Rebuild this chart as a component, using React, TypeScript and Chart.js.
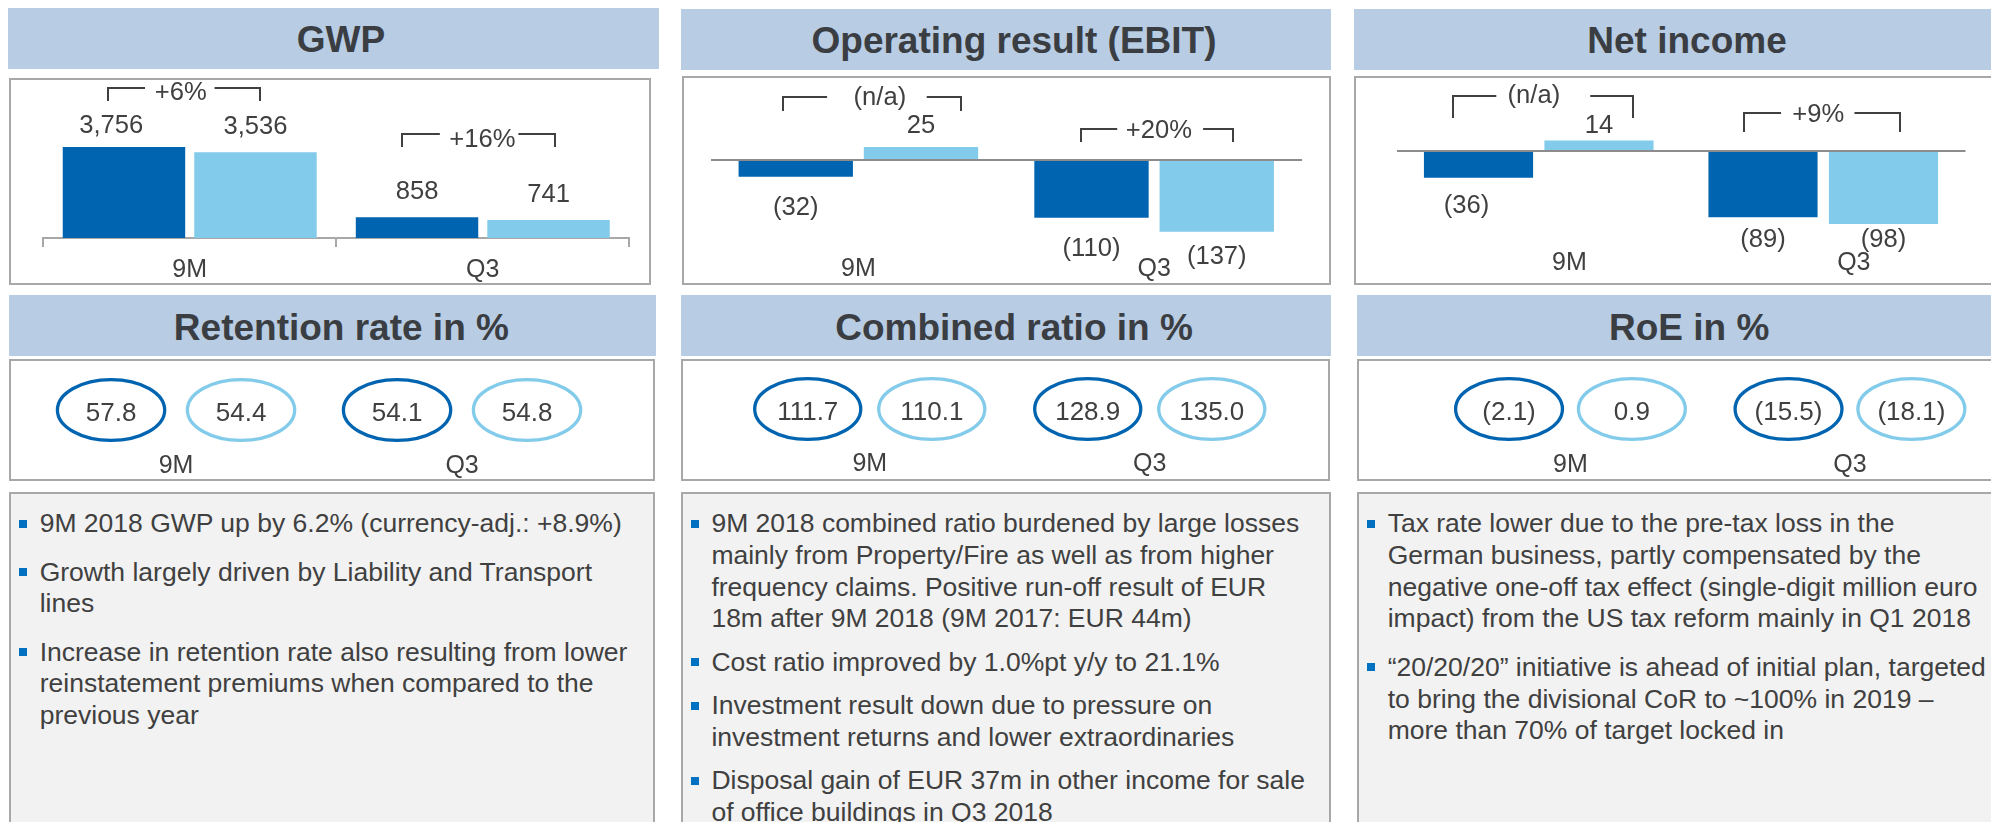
import React, { useEffect, useRef } from "react";
import { Chart, registerables } from "chart.js";

Chart.register(...registerables);

// ---------------- data ----------------
const periods = ["9M", "Q3"];
const gwp2018 = [3756, 858];
const gwp2017 = [3536, 741];
const gwpChange = ["+6%", "+16%"];
const ebit2018 = [-32, -110];
const ebit2017 = [25, -137];
const ebitChange = ["(n/a)", "+20%"];
const netIncome2018 = [-36, -89];
const netIncome2017 = [14, -98];
const netIncomeChange = ["(n/a)", "+9%"];
const retention2018 = [57.8, 54.1];
const retention2017 = [54.4, 54.8];
const combined2018 = [111.7, 128.9];
const combined2017 = [110.1, 135.0];
const roe2018 = [-2.1, -15.5];
const roe2017 = [0.9, -18.1];

// ---------------- styles ----------------
const FONT = '"Liberation Sans", Arial, sans-serif';
const DARK = "#0064b0";
const LIGHT = "#82cbea";
const TEXT = "#404040";
const TITLE = "#3a3e43";
const BAND = "#b8cce4";
const BORDER = "#a8a8a8";
const LINE = "#404040";
const LABEL_SIZE = 25.6;

Chart.defaults.font.family = FONT;

type Rect = { left: number; top: number; right: number; bottom: number };
type Bracket = { dxL: number; dxR: number; top: number; bottom: number; textDy: number; dxText: number; gapL: number; gapR: number };

const fmtBar = (v: number) => (v < 0 ? `(${Math.abs(v).toLocaleString("en-US")})` : v.toLocaleString("en-US"));
const fmtPct = (v: number) => (v < 0 ? `(${Math.abs(v).toFixed(1)})` : v.toFixed(1));

interface BarPanelProps {
  canvas: Rect;
  area: Rect;
  zeroY: number;
  pxPerUnit: number;
  current: number[];
  previous: number[];
  changes: string[];
  catPct: number;
  barPct: number;
  baselineAxis: boolean;
  tickPadding: number;
  labelOffset: number;
  labelGaps: number[][];
  labelDx: number[][];
  brackets: Bracket[];
}

function BarPanel(p: BarPanelProps) {
  const ref = useRef<HTMLCanvasElement>(null);
  const w = p.canvas.right - p.canvas.left;
  const h = p.canvas.bottom - p.canvas.top;
  useEffect(() => {
    const axisH = p.canvas.bottom - p.area.bottom;
    const min = p.baselineAxis ? 0 : -(p.area.bottom - p.zeroY) / p.pxPerUnit;
    const max = (p.zeroY - p.area.top) / p.pxPerUnit;
    const annot = {
      id: "annot",
      afterDatasetsDraw(chart: any) {
        const ctx = chart.ctx;
        const y0 = chart.scales.y.getPixelForValue(0);
        ctx.save();
        ctx.fillStyle = TEXT;
        ctx.font = `${LABEL_SIZE}px ${FONT}`;
        ctx.textAlign = "center";
        ctx.textBaseline = "alphabetic";
        chart.data.datasets.forEach((ds: any, di: number) => {
          const meta = chart.getDatasetMeta(di);
          meta.data.forEach((bar: any, i: number) => {
            const v = ds.data[i] as number;
            const pr = bar.getProps(["x", "y"], true);
            const gap = p.labelGaps[di][i];
            const ty = v >= 0 ? pr.y - gap : pr.y + gap;
            ctx.fillText(fmtBar(v), pr.x + p.labelDx[di][i], ty);
          });
        });
        // change brackets
        const m0 = chart.getDatasetMeta(0);
        const m1 = chart.getDatasetMeta(1);
        ctx.strokeStyle = LINE;
        ctx.lineWidth = 2;
        p.brackets.forEach((b, i) => {
          const L = Math.round(m0.data[i].x + b.dxL);
          const R = Math.round(m1.data[i].x + b.dxR);
          const top = Math.round(y0 + b.top);
          const bot = Math.round(y0 + b.bottom);
          const cx = (L + R) / 2 + b.dxText;
          const tw = ctx.measureText(p.changes[i]).width;
          ctx.beginPath();
          ctx.moveTo(L, bot);
          ctx.lineTo(L, top);
          ctx.lineTo(cx - tw / 2 - b.gapL, top);
          ctx.moveTo(cx + tw / 2 + b.gapR, top);
          ctx.lineTo(R, top);
          ctx.lineTo(R, bot);
          ctx.stroke();
          ctx.fillText(p.changes[i], cx, top + b.textDy);
        });
        ctx.restore();
      },
    };
    const chart = new Chart(ref.current as HTMLCanvasElement, {
      type: "bar",
      data: {
        labels: periods,
        datasets: [
          { label: "2018", data: p.current, backgroundColor: DARK, borderWidth: 0, categoryPercentage: p.catPct, barPercentage: p.barPct },
          { label: "2017", data: p.previous, backgroundColor: LIGHT, borderWidth: 0, categoryPercentage: p.catPct, barPercentage: p.barPct },
        ],
      },
      options: {
        responsive: false,
        animation: false,
        events: [],
        layout: {
          padding: {
            left: p.area.left - p.canvas.left,
            right: p.canvas.right - p.area.right,
            top: p.area.top - p.canvas.top,
            bottom: 0,
          },
        },
        plugins: { legend: { display: false }, tooltip: { enabled: false } },
        scales: {
          x: {
            type: "category",
            offset: true,
            border: { display: p.baselineAxis, color: BORDER, width: 2 },
            grid: {
              display: p.baselineAxis,
              offset: true,
              drawOnChartArea: false,
              drawTicks: p.baselineAxis,
              tickLength: 9,
              color: BORDER,
              lineWidth: 2,
            },
            ticks: {
              color: TEXT,
              font: { family: FONT, size: 25 },
              padding: p.tickPadding,
              labelOffset: p.labelOffset,
              maxRotation: 0,
              autoSkip: false,
            },
            afterFit: (s: any) => {
              s.height = axisH;
            },
          },
          y: p.baselineAxis
            ? { display: false, min, max }
            : {
                display: true,
                min,
                max,
                z: 1,
                border: { display: false },
                grid: { color: "#8c8c8c", lineWidth: 2, drawTicks: false },
                ticks: { display: false },
                afterBuildTicks: (s: any) => {
                  s.ticks = [{ value: 0 }];
                },
                afterFit: (s: any) => {
                  s.width = 0;
                },
              },
        },
      },
      plugins: [annot],
    } as any);
    return () => chart.destroy();
  }, []);
  return (
    <canvas
      ref={ref}
      width={w}
      height={h}
      style={{ position: "absolute", left: p.canvas.left, top: p.canvas.top, width: w, height: h }}
    />
  );
}

interface EllipsePanelProps {
  canvas: Rect;
  area: Rect;
  current: number[];
  previous: number[];
  catPct: number;
  barPct: number;
  tickPadding: number;
}

function EllipsePanel(p: EllipsePanelProps) {
  const ref = useRef<HTMLCanvasElement>(null);
  const w = p.canvas.right - p.canvas.left;
  const h = p.canvas.bottom - p.canvas.top;
  useEffect(() => {
    const axisH = p.canvas.bottom - p.area.bottom;
    const colors = [DARK, LIGHT];
    const ellipses = {
      id: "ellipses",
      afterDatasetsDraw(chart: any) {
        const ctx = chart.ctx;
        const ca = chart.chartArea;
        const cy = (ca.top + ca.bottom) / 2;
        const ry = (ca.bottom - ca.top) / 2 - 1.6;
        ctx.save();
        chart.data.datasets.forEach((ds: any, di: number) => {
          const meta = chart.getDatasetMeta(di);
          meta.data.forEach((bar: any, i: number) => {
            const pr = bar.getProps(["x", "width"], true);
            ctx.beginPath();
            ctx.ellipse(pr.x, cy, pr.width / 2 - 1.6, ry, 0, 0, Math.PI * 2);
            ctx.strokeStyle = colors[di];
            ctx.lineWidth = 3.3;
            ctx.stroke();
            ctx.fillStyle = TEXT;
            ctx.font = `26px ${FONT}`;
            ctx.textAlign = "center";
            ctx.textBaseline = "alphabetic";
            ctx.fillText(fmtPct(ds.data[i]), pr.x, cy + 11);
          });
        });
        ctx.restore();
      },
    };
    const chart = new Chart(ref.current as HTMLCanvasElement, {
      type: "bar",
      data: {
        labels: periods,
        datasets: [
          { label: "2018", data: p.current, backgroundColor: "rgba(0,0,0,0)", borderWidth: 0, categoryPercentage: p.catPct, barPercentage: p.barPct },
          { label: "2017", data: p.previous, backgroundColor: "rgba(0,0,0,0)", borderWidth: 0, categoryPercentage: p.catPct, barPercentage: p.barPct },
        ],
      },
      options: {
        responsive: false,
        animation: false,
        events: [],
        layout: {
          padding: {
            left: p.area.left - p.canvas.left,
            right: p.canvas.right - p.area.right,
            top: p.area.top - p.canvas.top,
            bottom: 0,
          },
        },
        plugins: { legend: { display: false }, tooltip: { enabled: false } },
        scales: {
          x: {
            type: "category",
            offset: true,
            border: { display: false },
            grid: { display: false, drawTicks: false },
            ticks: { color: TEXT, font: { family: FONT, size: 25 }, padding: p.tickPadding, maxRotation: 0, autoSkip: false },
            afterFit: (s: any) => {
              s.height = axisH;
            },
          },
          y: { display: false, min: -200, max: 200 },
        },
      },
      plugins: [ellipses],
    } as any);
    return () => chart.destroy();
  }, []);
  return (
    <canvas
      ref={ref}
      width={w}
      height={h}
      style={{ position: "absolute", left: p.canvas.left, top: p.canvas.top, width: w, height: h }}
    />
  );
}

function Band({ r, title, center, titleTop }: { r: Rect; title: string; center: number; titleTop: number }) {
  return (
    <div style={{ position: "absolute", left: r.left, top: r.top, width: r.right - r.left, height: r.bottom - r.top, background: BAND }}>
      <div
        style={{
          position: "absolute",
          left: center - r.left - 400,
          width: 800,
          top: titleTop,
          textAlign: "center",
          fontWeight: "bold",
          fontSize: 37,
          lineHeight: "37px",
          color: TITLE,
          whiteSpace: "nowrap",
        }}
      >
        {title}
      </div>
    </div>
  );
}

function Box({ r, fill }: { r: Rect; fill: string }) {
  return (
    <div
      style={{
        position: "absolute",
        left: r.left,
        top: r.top,
        width: r.right - r.left,
        height: r.bottom - r.top,
        boxSizing: "border-box",
        border: `2px solid ${BORDER}`,
        background: fill,
      }}
    />
  );
}

function Bullets({ left, top, gap, paras }: { left: number; top: number; gap: number; paras: string[][] }) {
  return (
    <div style={{ position: "absolute", left, top, fontSize: 26.5, lineHeight: "31.7px", color: TEXT, whiteSpace: "nowrap" }}>
      {paras.map((lines, i) => (
        <div key={i} style={{ position: "relative", marginTop: i === 0 ? 0 : gap }}>
          <div style={{ position: "absolute", left: -20.5, top: 11.7, width: 8, height: 8, background: "#0070c0" }} />
          {lines.map((l, j) => (
            <div key={j}>{l}</div>
          ))}
        </div>
      ))}
    </div>
  );
}

const col1Text = [
  ["9M 2018 GWP up by 6.2% (currency-adj.: +8.9%)"],
  ["Growth largely driven by Liability and Transport", "lines"],
  ["Increase in retention rate also resulting from lower", "reinstatement premiums when compared to the", "previous year"],
];
const col2Text = [
  [
    "9M 2018 combined ratio burdened by large losses",
    "mainly from Property/Fire as well as from higher",
    "frequency claims. Positive run-off result of EUR",
    "18m after 9M 2018 (9M 2017: EUR 44m)",
  ],
  ["Cost ratio improved by 1.0%pt y/y to 21.1%"],
  ["Investment result down due to pressure on", "investment returns and lower extraordinaries"],
  ["Disposal gain of EUR 37m in other income for sale", "of office buildings in Q3 2018"],
];
const col3Text = [
  [
    "Tax rate lower due to the pre-tax loss in the",
    "German business, partly compensated by the",
    "negative one-off tax effect (single-digit million euro",
    "impact) from the US tax reform mainly in Q1 2018",
  ],
  ["\u201C20/20/20\u201D initiative is ahead of initial plan, targeted", "to bring the divisional CoR to ~100% in 2019 \u2013", "more than 70% of target locked in"],
];

export default function App() {
  return (
    <div
      style={{
        position: "absolute",
        left: 0,
        top: 0,
        width: 1991,
        height: 822,
        overflow: "hidden",
        background: "#ffffff",
        fontFamily: FONT,
      }}
    >
      {/* row 1 */}
      <Band r={{ left: 8, top: 8, right: 658.5, bottom: 69 }} title="GWP" center={341} titleTop={13.4} />
      <Band r={{ left: 681, top: 9, right: 1331, bottom: 70 }} title="Operating result (EBIT)" center={1014} titleTop={13} />
      <Band r={{ left: 1354, top: 9, right: 2000, bottom: 70 }} title="Net income" center={1687} titleTop={13} />
      <Box r={{ left: 9.4, top: 78, right: 651.2, bottom: 285 }} fill="#ffffff" />
      <Box r={{ left: 682, top: 76, right: 1331, bottom: 285 }} fill="#ffffff" />
      <Box r={{ left: 1354, top: 76, right: 2010, bottom: 285 }} fill="#ffffff" />

      <BarPanel
        canvas={{ left: 11, top: 80, right: 650, bottom: 283 }}
        area={{ left: 43.2, top: 80, right: 629.3, bottom: 238 }}
        zeroY={238}
        pxPerUnit={0.02423}
        current={gwp2018}
        previous={gwp2017}
        changes={gwpChange}
        catPct={0.8976}
        barPct={0.931}
        baselineAxis={true}
        tickPadding={8}
        labelOffset={0}
        labelGaps={[[14, 18], [18, 18]]}
        labelDx={[[-12.8, 0], [0, 0]]}
        brackets={[
          { dxL: -16.2, dxR: 4.3, top: -150, bottom: -137, textDy: 12, dxText: -3.2, gapL: 9.8, gapR: 7.8 },
          { dxL: -14.6, dxR: 6.2, top: -104, bottom: -91, textDy: 13, dxText: 3.8, gapL: 9.4, gapR: 3 },
        ]}
      />
      <BarPanel
        canvas={{ left: 684, top: 78, right: 1329, bottom: 283 }}
        area={{ left: 710.5, top: 78, right: 1302, bottom: 245 }}
        zeroY={160}
        pxPerUnit={0.524}
        current={ebit2018}
        previous={ebit2017}
        changes={ebitChange}
        catPct={0.847}
        barPct={0.913}
        baselineAxis={false}
        tickPadding={9}
        labelOffset={0}
        labelGaps={[[38, 38], [14, 32]]}
        labelDx={[[0, 0], [0, 0]]}
        brackets={[
          { dxL: -12.5, dxR: 39.5, top: -63, bottom: -49, textDy: 8, dxText: 7.9, gapL: 26.5, gapR: 20.5 },
          { dxL: -10.1, dxR: 16.5, top: -31, bottom: -18, textDy: 9, dxText: 1.9, gapL: 8.6, gapR: 11.1 },
        ]}
      />
      <BarPanel
        canvas={{ left: 1356, top: 78, right: 1991, bottom: 283 }}
        area={{ left: 1396.5, top: 78, right: 1965.5, bottom: 245 }}
        zeroY={151}
        pxPerUnit={0.745}
        current={netIncome2018}
        previous={netIncome2017}
        changes={netIncomeChange}
        catPct={0.847}
        barPct={0.906}
        baselineAxis={false}
        tickPadding={3}
        labelOffset={30.6}
        labelGaps={[[35, 30], [8, 23]]}
        labelDx={[[-11.9, 0], [0, 0]]}
        brackets={[
          { dxL: -25.2, dxR: 34.2, top: -55, bottom: -33, textDy: 7, dxText: -9.1, gapL: 11.3, gapR: 30 },
          { dxL: -18.9, dxR: 17, top: -38, bottom: -19, textDy: 9, dxText: -3.8, gapL: 11.2, gapR: 10.3 },
        ]}
      />

      {/* row 2 */}
      <Band r={{ left: 9.4, top: 295, right: 655.9, bottom: 356 }} title="Retention rate in %" center={341.4} titleTop={13.7} />
      <Band r={{ left: 681, top: 295, right: 1331, bottom: 356 }} title="Combined ratio in %" center={1014} titleTop={13.7} />
      <Band r={{ left: 1356.6, top: 295, right: 2000, bottom: 356 }} title="RoE in %" center={1689.2} titleTop={13.7} />
      <Box r={{ left: 9.4, top: 359, right: 655, bottom: 481 }} fill="#ffffff" />
      <Box r={{ left: 681, top: 359, right: 1330, bottom: 481 }} fill="#ffffff" />
      <Box r={{ left: 1356.6, top: 359, right: 2010, bottom: 481 }} fill="#ffffff" />

      <EllipsePanel
        canvas={{ left: 11, top: 361, right: 653, bottom: 479 }}
        area={{ left: 33.05, top: 378, right: 605.05, bottom: 442 }}
        current={retention2018}
        previous={retention2017}
        catPct={0.909}
        barPct={0.85}
        tickPadding={9}
      />
      <EllipsePanel
        canvas={{ left: 683, top: 361, right: 1328, bottom: 479 }}
        area={{ left: 729.75, top: 377, right: 1289.75, bottom: 441 }}
        current={combined2018}
        previous={combined2017}
        catPct={0.886}
        barPct={0.881}
        tickPadding={8}
      />
      <EllipsePanel
        canvas={{ left: 1358, top: 361, right: 1991, bottom: 479 }}
        area={{ left: 1430.7, top: 377, right: 1989.7, bottom: 441 }}
        current={roe2018}
        previous={roe2017}
        catPct={0.879}
        barPct={0.896}
        tickPadding={9}
      />

      {/* row 3 */}
      <Box r={{ left: 9.4, top: 492, right: 655, bottom: 840 }} fill="#f2f2f2" />
      <Box r={{ left: 680.7, top: 492, right: 1331.5, bottom: 840 }} fill="#f2f2f2" />
      <Box r={{ left: 1356.6, top: 492, right: 2010, bottom: 840 }} fill="#f2f2f2" />
      <Bullets left={39.7} top={508.3} gap={16.7} paras={col1Text} />
      <Bullets left={711.4} top={508.3} gap={11.7} paras={col2Text} />
      <Bullets left={1387.7} top={508.3} gap={16.7} paras={col3Text} />
    </div>
  );
}
